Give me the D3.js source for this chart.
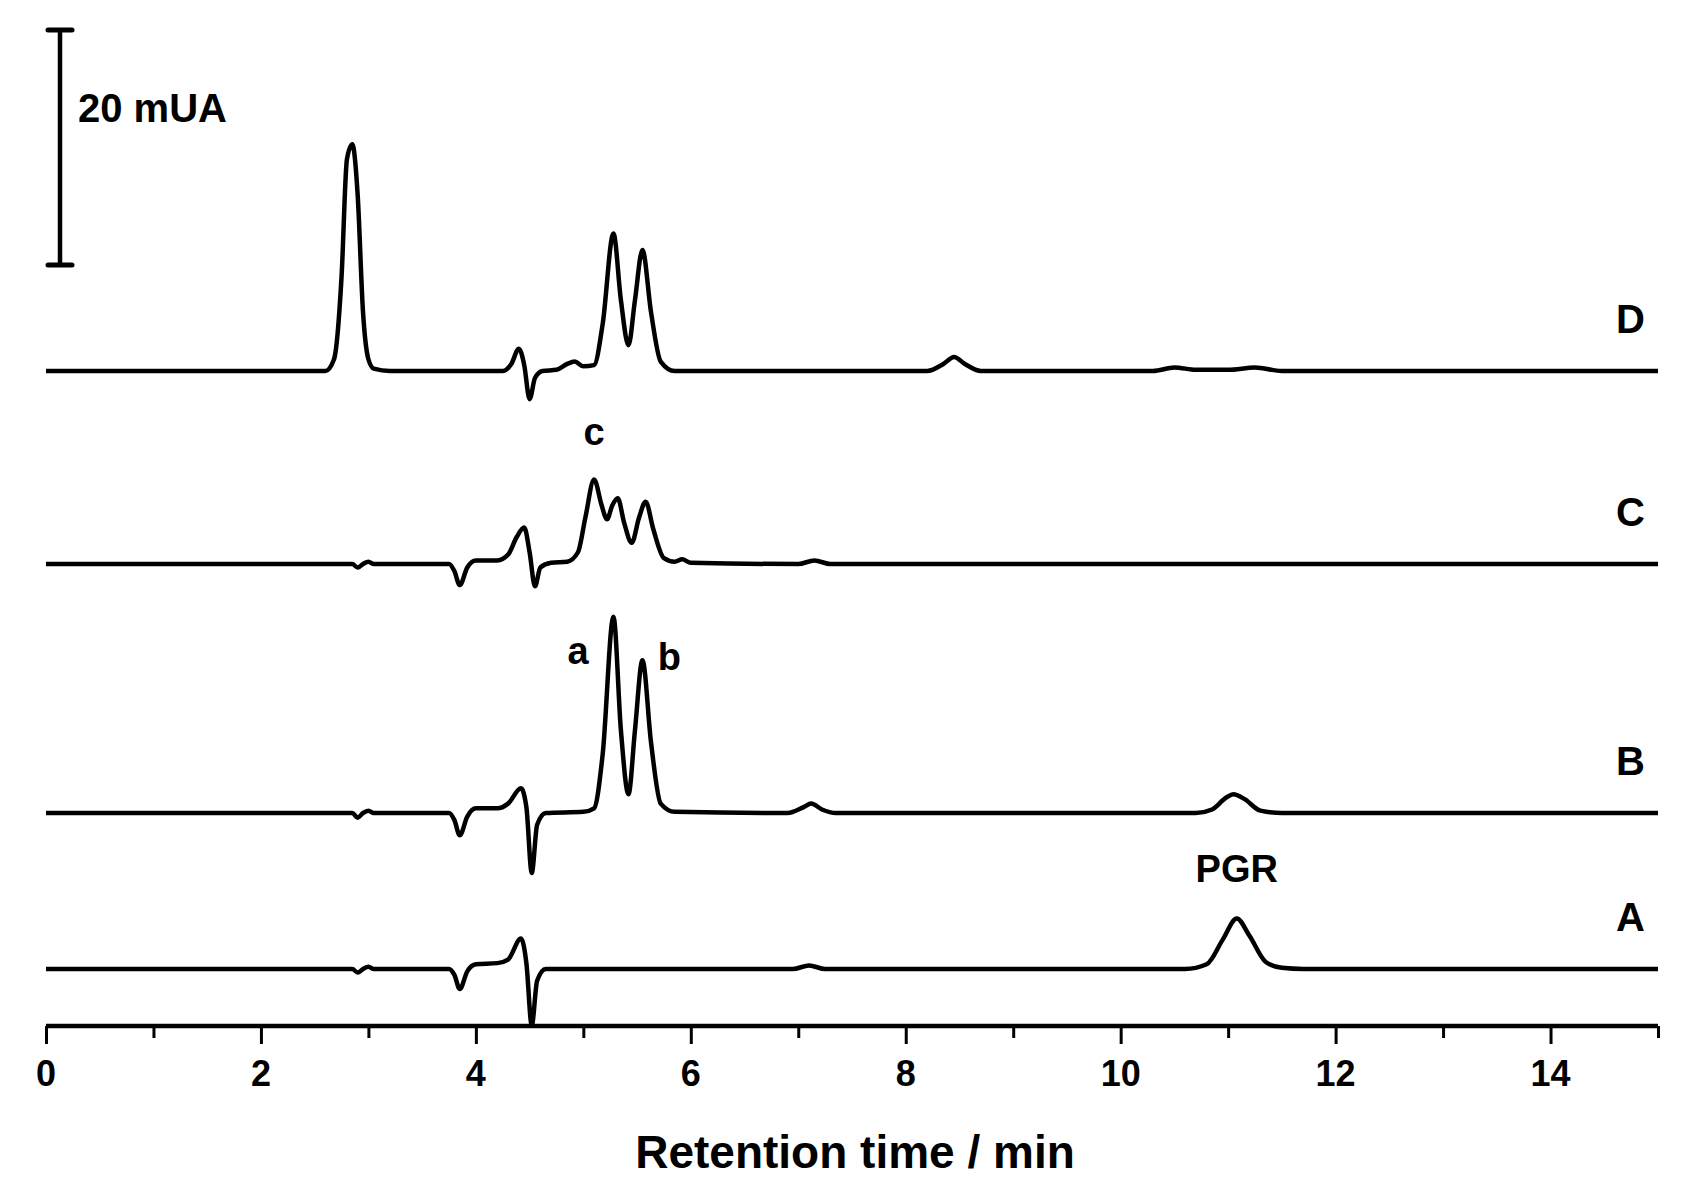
<!DOCTYPE html>
<html><head><meta charset="utf-8">
<script src="https://cdn.jsdelivr.net/npm/d3@7"></script>
<style>body{margin:0;background:#fff}text{font-family:"Liberation Sans Narrow","Liberation Sans",Arial,sans-serif;font-weight:bold;fill:#000}</style>
</head><body><svg id="c" width="1697" height="1180"></svg>
<script>
// chromatograms: [time min, signal mUA]
var traceD = [[0,0],[2.6,0],[2.68,1],[2.75,8],[2.8,18],[2.85,19.3],[2.9,15],[2.95,5],[3.0,1],[3.05,0.2],[3.2,0],[4.25,0],[4.33,0.6],[4.4,1.9],[4.45,0.5],[4.5,-2.4],[4.55,-0.6],[4.62,0],[4.75,0.1],[4.85,0.6],[4.92,0.8],[5.0,0.4],[5.1,0.5],[5.18,4],[5.28,11.7],[5.35,6],[5.42,2.2],[5.48,6],[5.55,10.3],[5.63,5],[5.72,0.8],[5.85,0],[8.2,0],[8.35,0.6],[8.45,1.2],[8.55,0.6],[8.7,0],[10.3,0],[10.5,0.3],[10.7,0.1],[11.0,0.1],[11.25,0.3],[11.5,0],[15,0]];
var traceC = [[0,0],[2.85,0],[2.9,-0.3],[2.95,0],[3.0,0.2],[3.05,0],[3.75,0],[3.8,-0.6],[3.85,-1.8],[3.92,-0.3],[4.0,0.3],[4.2,0.3],[4.3,0.8],[4.38,2.3],[4.45,3.1],[4.5,1],[4.55,-1.9],[4.6,-0.3],[4.7,0.1],[4.85,0.2],[4.95,1],[5.02,4],[5.1,7.2],[5.17,5],[5.22,3.8],[5.27,5],[5.32,5.6],[5.38,3.5],[5.45,1.8],[5.52,4],[5.58,5.3],[5.65,3],[5.75,0.5],[5.85,0.2],[5.92,0.4],[6.0,0.1],[7.0,0],[7.15,0.3],[7.3,0],[15,0]];
var traceB = [[0,0],[2.85,0],[2.9,-0.4],[2.95,0],[3.0,0.2],[3.05,0],[3.75,0],[3.8,-0.6],[3.85,-1.9],[3.92,-0.3],[4.0,0.4],[4.2,0.4],[4.3,0.8],[4.42,2.1],[4.47,0.5],[4.52,-5.1],[4.57,-1],[4.65,0],[5.0,0.1],[5.1,0.4],[5.18,5],[5.28,16.7],[5.35,7],[5.42,1.6],[5.48,7],[5.55,13],[5.63,6],[5.72,0.8],[5.85,0.1],[6.9,0],[7.05,0.5],[7.12,0.8],[7.22,0.3],[7.35,0],[10.7,0],[10.85,0.3],[10.98,1.3],[11.05,1.6],[11.15,1.2],[11.3,0.2],[11.5,0],[15,0]];
var traceA = [[0,0],[2.85,0],[2.9,-0.3],[2.95,0],[3.0,0.2],[3.05,0],[3.75,0],[3.8,-0.5],[3.85,-1.7],[3.92,-0.2],[4.0,0.4],[4.2,0.5],[4.3,0.8],[4.42,2.6],[4.47,0.5],[4.52,-4.8],[4.57,-1],[4.65,0],[6.95,0],[7.1,0.3],[7.25,0],[10.6,0],[10.8,0.4],[10.95,2.5],[11.08,4.3],[11.2,2.8],[11.35,0.6],[11.5,0.1],[11.7,0],[15,0]];
var traceNames = ["D","C","B","A"];
var peakLabels = [{t:"c",trace:"C",x:5.1,v:7.2},{t:"a",trace:"B",x:4.95,v:13.5},{t:"b",trace:"B",x:5.8,v:13},{t:"PGR",trace:"A",x:11.08,v:4.3}];
var xTicks = [0,2,4,6,8,10,12,14];

var svg = d3.select("#c");
var x = d3.scaleLinear().domain([0,15]).range([46,1658]);
var y = d3.scaleLinear().domain([0,20]).range([0,-235]);   // per-trace offset
var baseY = {D:371, C:564, B:813, A:969};
var data = {D:traceD, C:traceC, B:traceB, A:traceA};

var line = d3.line().x(d => x(d[0])).y(d => y(d[1])).curve(d3.curveMonotoneX);
traceNames.forEach(function(n){
    var g = svg.append("g").attr("transform","translate(0,"+baseY[n]+")");
    g.append("path").attr("d", line(data[n]))
        .attr("fill","none").attr("stroke","#000").attr("stroke-width",4.5).attr("stroke-linejoin","round");
    g.append("text").attr("x",1645).attr("y",-38).attr("text-anchor","end")
        .attr("font-size",40).text(n);
});

peakLabels.forEach(function(p){
    svg.append("text").attr("x",x(p.x)).attr("y",baseY[p.trace]+y(p.v)-(p.t=="PGR"?36:(p.t=="c"?34:-10)))
        .attr("text-anchor","middle").attr("font-size",38).text(p.t);
});

// x axis
var axisY = 1026;
var ax = svg.append("g").attr("transform","translate(0,"+axisY+")");
ax.call(d3.axisBottom(x).tickValues(d3.range(0,16,1)).tickSize(0).tickFormat(""));
ax.select(".domain").remove();
ax.append("line").attr("x1",x(0)).attr("x2",x(15)).attr("stroke","#000").attr("stroke-width",4.5);
ax.selectAll(".tick line").attr("stroke","#000").attr("stroke-width",3)
    .attr("y2", d => d%2==0 ? 18 : 12);
xTicks.forEach(function(t){
    ax.append("text").attr("x",x(t)).attr("y",60).attr("text-anchor","middle").attr("font-size",36).text(t);
});
svg.append("text").attr("x",855).attr("y",1168).attr("text-anchor","middle").attr("font-size",46).text("Retention time / min");

// scale bar 20 mUA
var sb = svg.append("g").attr("transform","translate(60,265)");
sb.append("line").attr("y1",0).attr("y2",y(20)).attr("stroke","#000").attr("stroke-width",4.5);
[0,20].forEach(v => sb.append("line").attr("x1",-12).attr("x2",12).attr("y1",y(v)).attr("y2",y(v)).attr("stroke","#000").attr("stroke-width",5).attr("stroke-linecap","round"));
svg.append("text").attr("x",78).attr("y",122).attr("font-size",40).text("20 mUA");
</script></body></html>
